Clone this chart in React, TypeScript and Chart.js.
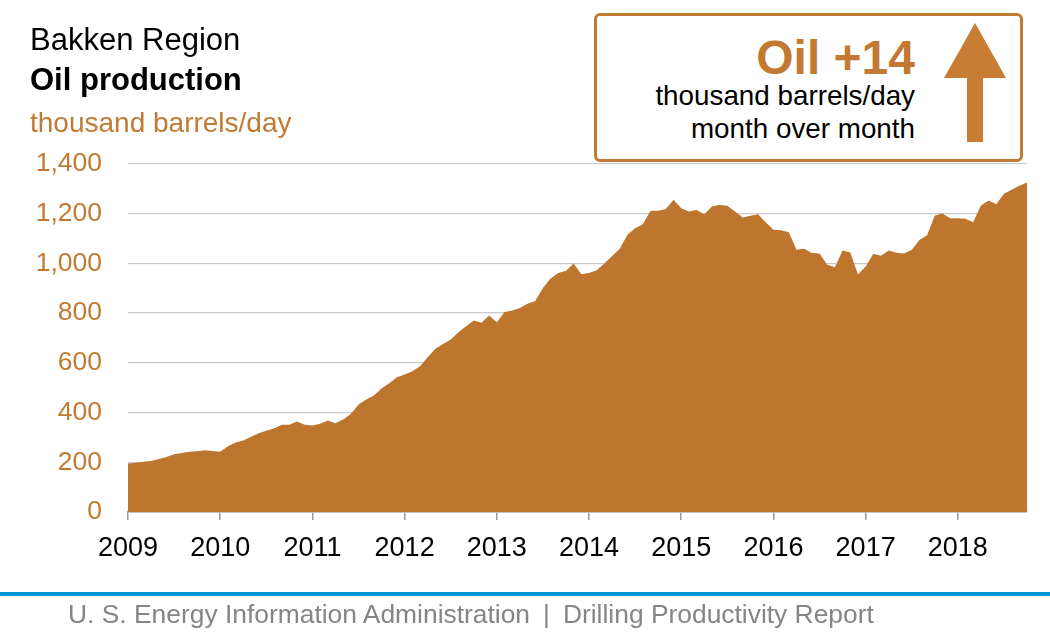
import React, { useEffect, useRef } from "react";
import { Chart, registerables } from "chart.js";

Chart.register(...registerables);

// Monthly Bakken oil production, thousand barrels/day (Jan 2009 - Oct 2018)
const prod2009 = [195, 198, 202, 205, 213, 221, 232, 237, 242, 244, 248, 245];
const prod2010 = [242, 265, 280, 288, 303, 317, 327, 336, 351, 351, 364, 351];
const prod2011 = [348, 355, 368, 357, 372, 394, 432, 453, 469, 497, 518, 542];
const prod2012 = [553, 566, 586, 623, 657, 676, 694, 723, 747, 770, 761, 791];
const prod2013 = [763, 805, 811, 821, 838, 849, 901, 939, 961, 971, 1000, 956];
const prod2014 = [961, 973, 1000, 1030, 1059, 1115, 1142, 1158, 1212, 1212, 1219, 1256];
const prod2015 = [1222, 1209, 1215, 1198, 1229, 1236, 1232, 1209, 1185, 1192, 1198, 1166];
const prod2016 = [1135, 1133, 1125, 1055, 1059, 1042, 1040, 995, 985, 1052, 1044, 955];
const prod2017 = [988, 1039, 1031, 1052, 1043, 1040, 1055, 1094, 1113, 1193, 1201, 1182];
const prod2018 = [1182, 1180, 1166, 1233, 1253, 1238, 1280, 1296, 1312, 1326];

const years = [2009, 2010, 2011, 2012, 2013, 2014, 2015, 2016, 2017, 2018];
const yearSeries = [prod2009, prod2010, prod2011, prod2012, prod2013, prod2014, prod2015, prod2016, prod2017, prod2018];
const yTicks = [0, 200, 400, 600, 800, 1000, 1200, 1400];

const titleLine1 = "Bakken Region";
const titleLine2 = "Oil production";
const unitLabel = "thousand barrels/day";
const boxHeadline = "Oil +14";
const boxLine1 = "thousand barrels/day";
const boxLine2 = "month over month";
const footerLeft = "U. S. Energy Information Administration";
const footerRight = "Drilling Productivity Report";

const AREA = "#BE752D";
const ORANGE = "#C27A32";
const FONT = "'Liberation Sans', Arial, Helvetica, sans-serif";

function Txt(props: { x: number; base: number; size: number; color: string; bold?: boolean; align?: "left" | "right"; children: any }) {
  const top = props.base - 0.8465 * props.size;
  const style: any = {
    position: "absolute",
    top,
    fontFamily: FONT,
    fontSize: props.size,
    lineHeight: 1,
    color: props.color,
    fontWeight: props.bold ? "bold" : "normal",
    whiteSpace: "pre",
  };
  if (props.align === "right") style.right = 1050 - props.x;
  else style.left = props.x;
  return <div style={style}>{props.children}</div>;
}

export default function App() {
  const canvasRef = useRef<HTMLCanvasElement | null>(null);

  useEffect(() => {
    document.body.style.margin = "0";
    const points: { x: number; y: number }[] = [];
    yearSeries.forEach((arr, yi) => {
      arr.forEach((v, m) => points.push({ x: years[yi] + m / 12, y: v }));
    });
    const chart = new Chart(canvasRef.current as HTMLCanvasElement, {
      type: "line",
      data: {
        datasets: [
          {
            data: points,
            fill: "origin",
            backgroundColor: AREA,
            borderWidth: 0,
            borderColor: AREA,
            pointRadius: 0,
            tension: 0,
          },
        ],
      },
      options: {
        animation: false,
        responsive: false,
        devicePixelRatio: 1,
        layout: { padding: { left: 0, right: 23, top: 164, bottom: 68 } },
        plugins: { legend: { display: false }, tooltip: { enabled: false } },
        scales: {
          x: {
            type: "linear",
            min: years[0],
            max: points[points.length - 1].x,
            afterFit: (s: any) => {
              s.height = 60;
            },
            afterBuildTicks: (s: any) => {
              s.ticks = years.map((y) => ({ value: y }));
            },
            ticks: {
              callback: (v: any) => String(v),
              color: "#000",
              font: { family: FONT, size: 27 },
              padding: 12,
              maxRotation: 0,
              autoSkip: false,
            },
            grid: {
              drawOnChartArea: false,
              drawTicks: true,
              tickLength: 8,
              color: "#9a9a9a",
              lineWidth: 1.5,
            },
            border: { display: true, color: "#9a9a9a", width: 1.5 },
          },
          y: {
            min: 0,
            max: 1400,
            afterFit: (s: any) => {
              s.width = 128;
            },
            afterBuildTicks: (s: any) => {
              s.ticks = yTicks.map((v) => ({ value: v }));
            },
            ticks: {
              callback: (v: any) => Number(v).toLocaleString("en-US"),
              color: ORANGE,
              font: { family: FONT, size: 26.5 },
              padding: 26,
            },
            grid: { drawTicks: false, color: "#c9c9c9", lineWidth: 1.3 },
            border: { display: false },
          },
        },
      },
    });
    return () => chart.destroy();
  }, []);

  return (
    <div style={{ position: "fixed", left: 0, top: 0, width: 1050, height: 640, background: "#fff", overflow: "hidden" }}>
      <canvas ref={canvasRef} width={1050} height={640} style={{ position: "absolute", left: 0, top: 0, width: 1050, height: 640 }} />
      <Txt x={30} base={50} size={31} color="#000">{titleLine1}</Txt>
      <Txt x={30} base={90} size={31} color="#000" bold>{titleLine2}</Txt>
      <Txt x={30} base={133} size={28} color={ORANGE}>{unitLabel}</Txt>

      <div
        style={{
          position: "absolute",
          left: 594,
          top: 13,
          width: 429,
          height: 149,
          border: `3px solid ${ORANGE}`,
          borderRadius: 6,
          boxSizing: "border-box",
          background: "#fff",
        }}
      />
      <Txt x={915} base={75} size={48} color={ORANGE} bold align="right">{boxHeadline}</Txt>
      <Txt x={915} base={106} size={27.8} color="#000" align="right">{boxLine1}</Txt>
      <Txt x={915} base={139} size={27.8} color="#000" align="right">{boxLine2}</Txt>
      <svg style={{ position: "absolute", left: 0, top: 0 }} width={1050} height={640}>
        <polygon points="975,23 1006,78 983,78 983,142 967,142 967,78 944,78" fill="#C87D35" />
      </svg>

      <div style={{ position: "absolute", left: 0, top: 592, width: 1050, height: 4, background: "#0096D6" }} />
      <Txt x={68} base={623} size={26.4} color="#858585">
        {footerLeft}
        <span style={{ margin: "0 13px" }}>|</span>
        {footerRight}
      </Txt>
    </div>
  );
}
